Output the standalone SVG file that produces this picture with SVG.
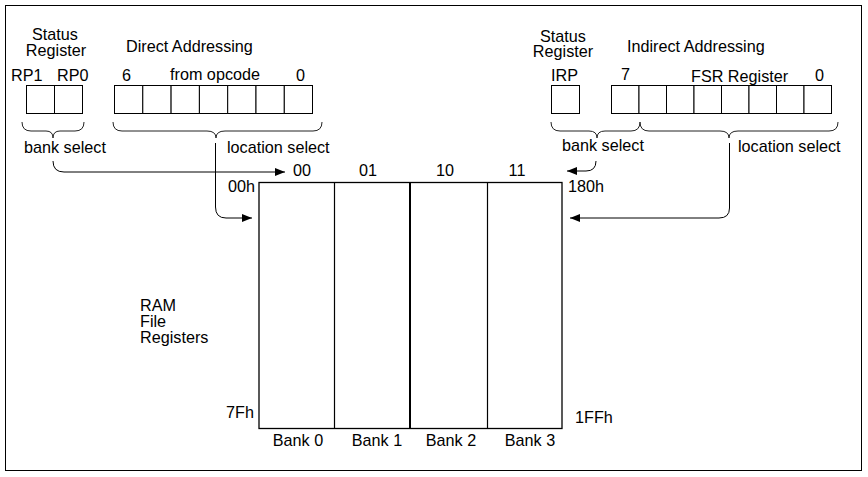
<svg xmlns="http://www.w3.org/2000/svg" width="868" height="477" viewBox="0 0 868 477">
<style>
text{font-family:"Liberation Sans",Arial,sans-serif;font-size:16.2px;fill:#000}
.c{text-anchor:middle}
.e{text-anchor:end}
.box{fill:#fff;stroke:#000;stroke-width:1}
.br{fill:none;stroke:#222;stroke-width:1}
.ln{fill:none;stroke:#000;stroke-width:1}
</style>
<defs>
<marker id="ah" markerWidth="10" markerHeight="8" refX="10" refY="4" orient="auto" markerUnits="userSpaceOnUse">
<path d="M0,0 L10,4 L0,8 Z" fill="#000"/>
</marker>
</defs>
<rect x="5.5" y="5.5" width="856" height="465" fill="#fff" stroke="#000" stroke-width="1"/>

<g id="status-left">
<text class="c"><tspan x="55" y="40">Status</tspan><tspan x="56" y="56">Register</tspan></text>
<text x="11" y="81">RP1</text>
<text x="57" y="81">RP0</text>
<rect class="box" x="26.5" y="85.5" width="28" height="28"/>
<rect class="box" x="54.5" y="85.5" width="28" height="28"/>
<path class="br" d="M22,122 Q22,131 31,131 L46,131 Q53,131 53,138 Q53,131 60,131 L75,131 Q84,131 84,122"/>
<text x="24" y="153">bank select</text>
</g>

<g id="direct">
<text x="126" y="52">Direct Addressing</text>
<text x="122" y="81">6</text>
<text x="170" y="80">from opcode</text>
<text x="296" y="81">0</text>
<rect class="box" x="114.5" y="85.5" width="28.3" height="28"/>
<rect class="box" x="142.8" y="85.5" width="28.3" height="28"/>
<rect class="box" x="171.1" y="85.5" width="28.3" height="28"/>
<rect class="box" x="199.4" y="85.5" width="28.3" height="28"/>
<rect class="box" x="227.7" y="85.5" width="28.3" height="28"/>
<rect class="box" x="256" y="85.5" width="28.3" height="28"/>
<rect class="box" x="284.3" y="85.5" width="28.2" height="28"/>
<path class="br" d="M113,122 Q113,131 122,131 L207,131 Q216,131 216,138 Q216,131 225,131 L313,131 Q322,131 322,122"/>
<text x="227" y="153">location select</text>
</g>

<g id="status-right">
<text class="c"><tspan x="563" y="42">Status</tspan><tspan x="563" y="57">Register</tspan></text>
<text x="551" y="81">IRP</text>
<rect class="box" x="551.5" y="85.5" width="28" height="28"/>
<path class="br" d="M551,122 Q551,131 560,131 L589,131 Q597,131 597,138 Q597,131 605,131 L631,131 Q640,131 640,122"/>
<text x="562" y="151">bank select</text>
</g>

<g id="indirect">
<text x="627" y="52">Indirect Addressing</text>
<text x="621" y="80">7</text>
<text x="691" y="82">FSR Register</text>
<text x="815" y="81">0</text>
<rect class="box" x="611.5" y="85.5" width="27.5" height="28"/>
<rect class="box" x="639" y="85.5" width="27.5" height="28"/>
<rect class="box" x="666.5" y="85.5" width="27.5" height="28"/>
<rect class="box" x="694" y="85.5" width="27.5" height="28"/>
<rect class="box" x="721.5" y="85.5" width="27.5" height="28"/>
<rect class="box" x="749" y="85.5" width="27.5" height="28"/>
<rect class="box" x="776.5" y="85.5" width="27.5" height="28"/>
<rect class="box" x="804" y="85.5" width="27.5" height="28"/>
<path class="br" d="M640,122 Q640,131 649,131 L720,131 Q729,131 729,138 Q729,131 738,131 L829,131 Q838,131 838,122"/>
<text x="738" y="152">location select</text>
</g>

<g id="ram">
<rect x="259" y="182.5" width="303" height="246" fill="#fff" stroke="#000" stroke-width="1.3"/>
<line x1="334.5" y1="182.5" x2="334.5" y2="428.5" stroke="#000" stroke-width="1.2"/>
<line x1="410" y1="182.5" x2="410" y2="428.5" stroke="#000" stroke-width="2"/>
<line x1="487.5" y1="182.5" x2="487.5" y2="428.5" stroke="#000" stroke-width="1.2"/>
<text class="c" x="302" y="176">00</text>
<text class="c" x="368" y="176">01</text>
<text class="c" x="445" y="176">10</text>
<text class="c" x="517" y="176">11</text>
<text class="e" x="255" y="192">00h</text>
<text x="568" y="192">180h</text>
<text class="e" x="254" y="418">7Fh</text>
<text x="575" y="423">1FFh</text>
<text class="c" x="298" y="446">Bank 0</text>
<text class="c" x="377" y="446">Bank 1</text>
<text class="c" x="451" y="446">Bank 2</text>
<text class="c" x="530" y="446">Bank 3</text>
<text><tspan x="140" y="311">RAM</tspan><tspan x="140" y="327">File</tspan><tspan x="140" y="343">Registers</tspan></text>
</g>

<g id="connectors">
<path class="ln" d="M53,161 Q53,172 64,172 L285,172" marker-end="url(#ah)"/>
<path class="ln" d="M215.5,143 L215.5,207 Q215.5,218 226,218 L252,218" marker-end="url(#ah)"/>
<path class="ln" d="M596,161 Q596,171 586,171 L567,171" marker-end="url(#ah)"/>
<path class="ln" d="M729.5,143 L729.5,208 Q729.5,218 719,218 L570,218" marker-end="url(#ah)"/>
</g>
</svg>
